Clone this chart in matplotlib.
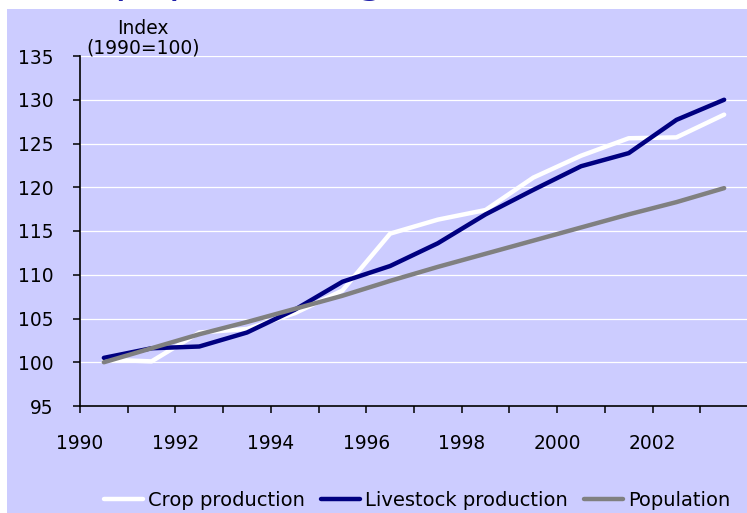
import matplotlib
matplotlib.use("Agg")
import matplotlib.pyplot as plt
from matplotlib.patches import Rectangle

years = [1990, 1991, 1992, 1993, 1994, 1995, 1996, 1997, 1998, 1999, 2000, 2001, 2002, 2003]
crop = [100.3, 100.1, 103.4, 103.8, 105.6, 108.2, 114.7, 116.3, 117.4, 121.1, 123.6, 125.6, 125.7, 128.3]
livestock = [100.5, 101.6, 101.8, 103.4, 106.0, 109.2, 111.0, 113.6, 116.9, 119.7, 122.4, 123.9, 127.7, 130.0]
population = [100.0, 101.6, 103.2, 104.6, 106.1, 107.6, 109.3, 110.9, 112.4, 113.9, 115.4, 116.9, 118.3, 119.9]
series_names = ["Crop production", "Livestock production", "Population"]
xtick_labels = ["1990", "1992", "1994", "1996", "1998", "2000", "2002"]
yticks = [95, 100, 105, 110, 115, 120, 125, 130, 135]

W, H = 747, 513
BG = "#CCCCFF"
fig = plt.figure(figsize=(W / 100, H / 100), dpi=100, facecolor="white")
fig.patches.append(Rectangle((7 / W, 0), 1 - 7 / W, 1 - 9 / H, transform=fig.transFigure,
                             facecolor=BG, edgecolor="none", zorder=-10))

# title, cut off at the top edge as in the reference (only descenders visible)
fig.text(115 / W, 1 + 8 / H, "population growth", color="#1F1FA8", fontsize=31,
         ha="left", va="baseline")

ax = fig.add_axes([80 / W, (H - 406) / H, (748 - 80) / W, 350 / H])
ax.set_facecolor(BG)
ax.patch.set_alpha(0)

xs = [y + 0.5 for y in years]
colors = ["white", "#000080", "#808080"]
for vals, name, c in zip([crop, livestock, population], series_names, colors):
    ax.plot(xs, vals, color=c, lw=3.2, label=name, solid_capstyle="round", solid_joinstyle="round")

ax.set_xlim(1990, 2004)
ax.set_ylim(95, 135)
ax.set_yticks(yticks)
ax.set_xticks(range(1990, 2004))
ax.set_xticklabels([str(y) if str(y) in xtick_labels else "" for y in range(1990, 2004)])
for yv in yticks[1:]:
    ax.axhline(yv, color="white", lw=0.9, zorder=0)
ax.spines["top"].set_visible(False)
ax.spines["right"].set_visible(False)
ax.spines["left"].set_linewidth(1.2)
ax.spines["bottom"].set_linewidth(1.2)
ax.tick_params(axis="both", direction="out", length=5, width=1.1, labelsize=13.4, colors="black")
ax.tick_params(axis="y", pad=14)
ax.tick_params(axis="x", pad=15)

fig.text(143 / W, 1 - 28.5 / H, "Index", ha="center", va="center", fontsize=13.5)
fig.text(143 / W, 1 - 48 / H, "(1990=100)", ha="center", va="center", fontsize=13.5)

leg = fig.legend(loc="center left", bbox_to_anchor=(104 / W, 1 - 500 / H), ncol=3, frameon=False,
                 fontsize=14, handlelength=2.0, handletextpad=0.25, columnspacing=0.85,
                 borderpad=0, borderaxespad=0)

fig.savefig("out.png", dpi=100, facecolor=fig.get_facecolor())
